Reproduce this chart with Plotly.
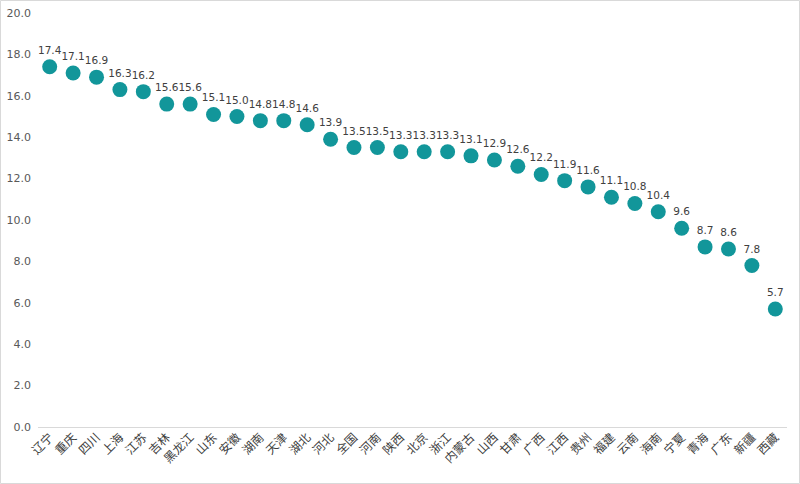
import plotly.graph_objects as go

regions = ["辽宁", "重庆", "四川", "上海", "江苏", "吉林", "黑龙江", "山东", "安徽", "湖南",
           "天津", "湖北", "河北", "全国", "河南", "陕西", "北京", "浙江", "内蒙古", "山西",
           "甘肃", "广西", "江西", "贵州", "福建", "云南", "海南", "宁夏", "青海", "广东",
           "新疆", "西藏"]
values = [17.4, 17.1, 16.9, 16.3, 16.2, 15.6, 15.6, 15.1, 15.0, 14.8,
          14.8, 14.6, 13.9, 13.5, 13.5, 13.3, 13.3, 13.3, 13.1, 12.9,
          12.6, 12.2, 11.9, 11.6, 11.1, 10.8, 10.4, 9.6, 8.7, 8.6,
          7.8, 5.7]
y_ticks = [0, 2, 4, 6, 8, 10, 12, 14, 16, 18, 20]

cjk_font = "Noto Sans CJK SC, Microsoft YaHei, sans-serif"
num_font = "DejaVu Sans, sans-serif"

fig = go.Figure()
fig.add_trace(go.Scatter(
    x=regions, y=values, mode="markers+text",
    marker=dict(size=15, color="#12969A"),
    text=[f"{v:.1f}" for v in values],
    textposition="top center",
    textfont=dict(size=10.5, color="#404040", family=num_font),
    cliponaxis=False,
    hoverinfo="x+y",
))

fig.update_layout(
    width=800, height=484,
    margin=dict(l=38, r=13, t=13, b=57),
    paper_bgcolor="white", plot_bgcolor="white",
    showlegend=False,
    font=dict(family=cjk_font, size=11, color="#595959"),
    xaxis=dict(
        type="category", tickangle=-45, showgrid=False, zeroline=False,
        showline=False, ticks="", automargin=False,
        tickfont=dict(size=12, color="#404040", family=cjk_font),
        range=[-0.5, len(regions) - 0.5],
    ),
    yaxis=dict(
        range=[0, 20], tickvals=y_ticks, tickformat=".1f", showgrid=False,
        zeroline=True, zerolinecolor="#D9D9D9", zerolinewidth=1,
        showline=False, ticks="", automargin=False, ticklabelstandoff=6,
        tickfont=dict(size=11, color="#595959", family=num_font),
    ),
    shapes=[dict(type="rect", xref="paper", yref="paper", x0=-37.5/749, x1=1 + 12.5/749,
                 y0=-56.5/414, y1=1 + 12.5/414, line=dict(color="#D9D9D9", width=1))],
)

fig.write_html("out.html")
